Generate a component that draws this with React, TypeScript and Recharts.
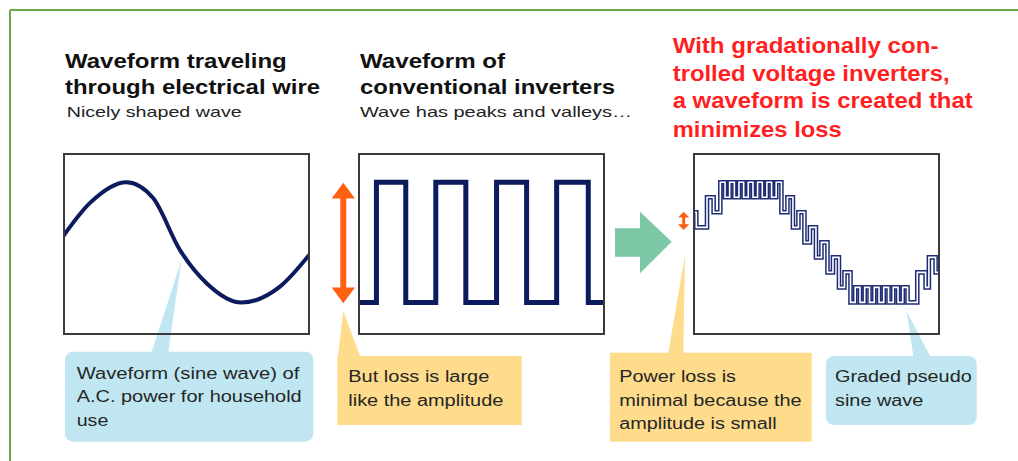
import React from "react";
import { LineChart, Line, XAxis, YAxis } from "recharts";

// box-relative x (px across the 247px frame) and wave level (1 level ≈ 15px)
const SINE_X = [0, 26.7, 63.4, 90, 116.7, 143.4, 178.4, 216.7, 246];
const SINE_Y = [0.39, 2.61, 4.01, 2.95, -0.5, -2.72, -4.01, -2.95, -0.83];

const SQUARE_X = [0, 18.4, 47.7, 77.7, 107.7, 138.4, 168.4, 198.4, 230, 246.7];
const SQUARE_Y = [-4, 4, -4, 4, -4, 4, -4, 4, -4, -4];

const STEP_X = [
  0, 3.3, 14, 20.6,
  27.3, 32, 36.6, 41.3, 45.9, 50.6, 55.2, 59.9, 64.5, 69.2, 73.8, 78.5, 83.1,
  88.3, 94.3, 99.8, 105.3, 111.3, 116.8, 122.8, 128.3, 134.3, 139.8, 145.8, 151.3,
  157.3, 162, 166.8, 171.5, 176.3, 181, 185.8, 190.5, 195.3, 200, 204.8, 209.5, 214.3,
  224, 232.3, 235.6, 242.3, 246.6,
];
const STEP_Y = [
  2, 1, 3, 2,
  4, 3, 4, 3, 4, 3, 4, 3, 4, 3, 4, 3, 4,
  2, 3, 1, 2, 0, 1, -1, 0, -2, -1, -3, -2,
  -4, -3, -4, -3, -4, -3, -4, -3, -4, -3, -4, -3, -4,
  -2, -3, -1, -2, -2,
];

const HEAD_BLACK = [
  { x: 65, y: 68.3, w: 221.7, t: "Waveform traveling" },
  { x: 65, y: 94.3, w: 255, t: "through electrical wire" },
  { x: 360, y: 68.3, w: 145, t: "Waveform of" },
  { x: 360, y: 94.3, w: 255, t: "conventional inverters" },
];
const SUBHEADS = [
  { x: 66.7, y: 116.7, w: 175, t: "Nicely shaped wave" },
  { x: 360, y: 117, w: 272, t: "Wave has peaks and valleys…" },
];
const HEAD_RED = [
  { x: 672.7, y: 52.7, w: 265.7, t: "With gradationally con-" },
  { x: 672.7, y: 81, w: 277, t: "trolled voltage inverters," },
  { x: 672.7, y: 108.3, w: 300, t: "a waveform is created that" },
  { x: 672.7, y: 136.7, w: 169, t: "minimizes loss" },
];
const NOTES = [
  { x: 76.7, y: 379.3, w: 222.7, t: "Waveform (sine wave) of" },
  { x: 76.7, y: 402.3, w: 225, t: "A.C. power for household" },
  { x: 76.7, y: 426, w: 31.7, t: "use" },
  { x: 348.3, y: 381.7, w: 141, t: "But loss is large" },
  { x: 348.3, y: 405.7, w: 155, t: "like the amplitude" },
  { x: 619.3, y: 381.7, w: 116.7, t: "Power loss is" },
  { x: 619.3, y: 405.7, w: 182.3, t: "minimal because the" },
  { x: 619.3, y: 429.3, w: 157.3, t: "amplitude is small" },
  { x: 835, y: 381.7, w: 136.7, t: "Graded pseudo" },
  { x: 835, y: 405.7, w: 88.3, t: "sine wave" },
];

const zip = (xs: number[], ys: number[]) => xs.map((x, i) => ({ x, y: ys[i] }));

const BOX_W = 247;
const BOX_H = 182;
const BOX_TOP = 153;
const NAVY = "#0c1a5e";
const BLUE_NOTE = "#bfe6f1";
const ORANGE_NOTE = "#fedc8b";
const FONT = "'Liberation Sans', Arial, sans-serif";

function WaveBox({ left, data, type, children }: any) {
  return (
    <div style={{ position: "absolute", left, top: BOX_TOP, width: BOX_W, height: BOX_H }}>
      <LineChart width={BOX_W} height={BOX_H} data={data} margin={{ top: 0, right: 0, bottom: 0, left: 0 }}>
        <XAxis type="number" dataKey="x" domain={[0, 246.7]} hide />
        <YAxis type="number" domain={[-6.17, 5.95]} hide />
        {children}
      </LineChart>
    </div>
  );
}

function Frame({ left }: { left: number }) {
  return (
    <div
      style={{
        position: "absolute",
        left,
        top: BOX_TOP,
        width: BOX_W,
        height: BOX_H,
        border: "2px solid #3a3a3a",
        boxSizing: "border-box",
        pointerEvents: "none",
      }}
    />
  );
}

export default function App() {
  const sine = zip(SINE_X, SINE_Y);
  const square = zip(SQUARE_X, SQUARE_Y);
  const steps = zip(STEP_X, STEP_Y);

  return (
    <div style={{ position: "absolute", left: 0, top: 0, width: 1018, height: 461, background: "#fff", overflow: "hidden" }}>
      <WaveBox left={63} data={sine}>
        <Line type="monotone" dataKey="y" stroke={NAVY} strokeWidth={4} dot={false} isAnimationActive={false} />
      </WaveBox>
      <WaveBox left={358} data={square}>
        <Line type="stepAfter" dataKey="y" stroke={NAVY} strokeWidth={5} dot={false} isAnimationActive={false} />
      </WaveBox>
      <WaveBox left={693} data={steps}>
        <Line type="stepAfter" dataKey="y" stroke="#1d2c74" strokeWidth={4.6} dot={false} isAnimationActive={false} />
        <Line type="stepAfter" dataKey="y" stroke="#ffffff" strokeWidth={1.6} dot={false} isAnimationActive={false} />
      </WaveBox>

      <svg width={1018} height={461} style={{ position: "absolute", left: 0, top: 0 }}>
        {/* outer frame */}
        <line x1={10} y1={10} x2={1018} y2={10} stroke="#6aab45" strokeWidth={2} />
        <line x1={10} y1={10} x2={10} y2={461} stroke="#6aab45" strokeWidth={2} />

        {/* callouts */}
        <polygon points="151.7,352 168.3,352 181.5,260" fill={BLUE_NOTE} />
        <rect x={65} y={351.7} width={248.3} height={90} rx={8} fill={BLUE_NOTE} />
        <polygon points="338,356 360,356 343.3,311" fill={ORANGE_NOTE} />
        <rect x={337.3} y={356} width={184.4} height={69} fill={ORANGE_NOTE} />
        <polygon points="668.3,353 683.3,353 685,255" fill={ORANGE_NOTE} />
        <rect x={610} y={352.7} width={201.7} height={89} fill={ORANGE_NOTE} />
        <polygon points="913.3,356 930,356 906.7,311.7" fill={BLUE_NOTE} />
        <rect x={826} y={356} width={150.7} height={69} rx={8} fill={BLUE_NOTE} />

        {/* big amplitude arrow */}
        <polygon
          points="343.3,182.7 355,198.5 346.3,198.5 346.3,287.5 355,287.5 343.3,303.3 331.7,287.5 340.3,287.5 340.3,198.5 331.7,198.5"
          fill="#ff6012"
        />
        {/* small amplitude arrow */}
        <polygon
          points="683.7,211.7 689.3,217.5 685.2,217.5 685.2,224.2 689.3,224.2 683.7,230 678.1,224.2 682.2,224.2 682.2,217.5 678.1,217.5"
          fill="#ff6012"
        />
        {/* green arrow */}
        <polygon points="615,228.3 640,228.3 640,211.7 671.7,241.7 640,273.3 640,256.7 615,256.7" fill="#7cc8a6" />

        <g fontFamily={FONT}>
          {HEAD_BLACK.map((d) => (
            <text key={d.t} x={d.x} y={d.y} fontSize={21} fontWeight="bold" fill="#111" textLength={d.w} lengthAdjust="spacingAndGlyphs">
              {d.t}
            </text>
          ))}
          {SUBHEADS.map((d) => (
            <text key={d.t} x={d.x} y={d.y} fontSize={15} fill="#222" textLength={d.w} lengthAdjust="spacingAndGlyphs">
              {d.t}
            </text>
          ))}
          {HEAD_RED.map((d) => (
            <text key={d.t} x={d.x} y={d.y} fontSize={22} fontWeight="bold" fill="#ff1f1f" textLength={d.w} lengthAdjust="spacingAndGlyphs">
              {d.t}
            </text>
          ))}
          {NOTES.map((d) => (
            <text key={d.t} x={d.x} y={d.y} fontSize={16} fill="#262626" textLength={d.w} lengthAdjust="spacingAndGlyphs">
              {d.t}
            </text>
          ))}
        </g>
      </svg>

      <Frame left={63} />
      <Frame left={358} />
      <Frame left={693} />
    </div>
  );
}
